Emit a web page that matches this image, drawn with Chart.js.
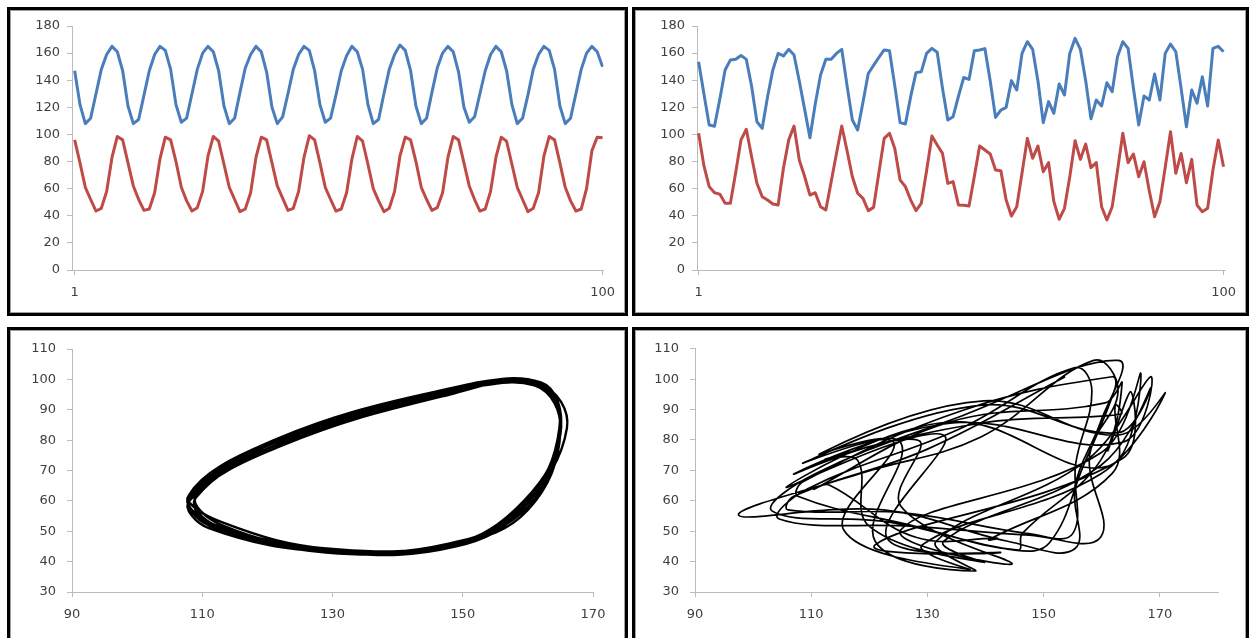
<!DOCTYPE html>
<html>
<head>
<meta charset="utf-8">
<script src="https://cdn.jsdelivr.net/npm/chart.js@4.4.1/dist/chart.umd.min.js"></script>
<style>
  html, body { margin: 0; padding: 0; background: #fff; }
  body { width: 1249px; height: 638px; position: relative; overflow: hidden; }
  .frame {
    position: absolute;
    box-sizing: border-box;
    border: 3px solid #000;
    box-shadow: inset 0 0 0 1px #a0a0a0;
  }
  canvas { position: absolute; }
</style>
</head>
<body>
<div class="frame" style="left:7px;top:7px;width:621px;height:309px"></div>
<div class="frame" style="left:632px;top:7px;width:617px;height:309px"></div>
<div class="frame" style="left:7px;top:327px;width:621px;height:330px"></div>
<div class="frame" style="left:632px;top:327px;width:617px;height:330px"></div>

<canvas id="regular-time" width="615" height="303" style="left:10px;top:10px"></canvas>
<canvas id="chaotic-time" width="611" height="303" style="left:635px;top:10px"></canvas>
<canvas id="regular-phase" width="615" height="308" style="left:10px;top:330px"></canvas>
<canvas id="chaotic-phase" width="611" height="308" style="left:635px;top:330px"></canvas>

<script>
// step number of every sample (x of the top charts)
const STEPS = Array.from({ length: 100 }, (_, k) => k + 1);

// left column: regular cycle
const REGULAR_BLUE = [
  147, 122,
  108, 112, 130, 148, 159, 165, 161, 147, 121,
  108, 111, 129, 147, 159, 165, 162, 148, 122,
  109, 112, 130, 148, 160, 165, 161, 147, 121,
  108, 112, 131, 149, 159, 165, 161, 146, 120,
  108, 113, 130, 148, 159, 165, 162, 147, 122,
  109, 112, 129, 147, 158, 165, 161, 148, 122,
  108, 111, 130, 148, 159, 166, 162, 147, 121,
  108, 112, 131, 149, 160, 165, 161, 146, 120,
  109, 113, 130, 147, 159, 165, 161, 147, 122,
  108, 112, 129, 148, 159, 165, 162, 148, 121,
  108, 112, 130, 148, 160, 165, 161, 150,
];
const REGULAR_RED = [
  96, 79,
  61, 52, 43.5, 45.5, 58, 83, 98.5, 96, 79,
  62, 52, 44, 45, 57, 82, 98, 96, 80,
  61, 51, 43.5, 46, 58, 84, 98.5, 95, 78,
  61, 52, 43, 45, 57, 83, 98, 96, 79,
  62, 53, 44, 45.5, 58, 83, 99, 96, 79,
  61, 52, 43.5, 45, 57, 82, 98.5, 95, 78,
  60, 51, 43, 45.5, 58, 84, 98, 96, 80,
  61, 52, 44, 46, 57, 83, 98.5, 96, 79,
  62, 52, 43.5, 45, 58, 83, 98, 95, 78,
  61, 52, 43, 45.5, 57, 84, 98.5, 96, 79,
  61, 51, 43.5, 45, 60, 88, 98, 97.5,
];

// right column: chaotic run
const CHAOTIC_BLUE = [
  153.7, 130, 107, 106, 126, 147.5, 155, 155.5, 158.3, 155.4,
  135.5, 109.4, 104.5, 127.6, 147.5, 159.8, 157.9, 162.8, 158.6, 139.2,
  118.5, 97.5, 122.4, 143.8, 155.4, 155.4, 159.8, 162.8, 136, 110.6,
  103.3, 123.7, 145, 151, 156.9, 162.3, 161.8, 136, 108.7, 107.7,
  127.9, 145.6, 146.3, 159.8, 163.5, 160.6, 134, 110.6, 113.1, 128,
  142, 140.6, 161.8, 162.3, 163.3, 139.4, 112.6, 118, 120, 139.7,
  132.8, 159.8, 168.4, 162.8, 139.4, 108.7, 124.2, 115.6, 137.2, 129.1,
  159.8, 170.9, 162.8, 139.7, 111.5, 125.4, 121, 138.2, 131.5, 157.4,
  168.4, 163.5, 134.3, 107, 128.4, 125.4, 144.6, 125.4, 159.8, 166.7,
  161, 134, 105.7, 132.8, 123, 142.6, 121, 163.5, 165, 161,
];
const CHAOTIC_RED = [
  100.8, 77, 61.5, 57, 56, 49.2, 49.2, 72, 96, 103.8,
  83.6, 64, 54, 51.6, 48.7, 48, 75, 96, 106.2, 81,
  69, 55.3, 57, 46.7, 44.3, 65, 86, 106.2, 88, 68.8,
  56.6, 52.9, 43.8, 46.2, 71.8, 97.1, 100.8, 89.7, 66.4, 61.5,
  51.6, 43.8, 49.2, 73.3, 98.8, 92.2, 86, 63.9, 65.2, 48,
  47.7, 47.2, 69, 91.5, 88.5, 85.6, 73.8, 73.3, 51.6, 39.8,
  46.7, 71.6, 97.1, 82.4, 91.5, 72.5, 79.2, 50.4, 37.4, 45.5,
  68.8, 95.4, 81.6, 92.9, 75.5, 79.2, 46.7, 36.9, 46.7, 73.3,
  100.8, 79.2, 85.6, 68.8, 79.9, 58.3, 39.3, 50.4, 75.7, 102,
  71.3, 86, 64.4, 81.6, 47.9, 43, 45.5, 73.8, 95.9, 76.2,
];

// tick labels
const TIME_X_TICKS = [1, 100];
const TIME_Y_TICKS = [0, 20, 40, 60, 80, 100, 120, 140, 160, 180];
const PHASE_X_TICKS = [90, 110, 130, 150, 170];
const PHASE_Y_TICKS = [30, 40, 50, 60, 70, 80, 90, 100, 110];

const FONT = { family: "'DejaVu Sans', sans-serif", size: 13 };
const AXIS_GRAY = "#bcbcbc";
const LABEL_GRAY = "#404040";

function fixedTicks(values) {
  return (axis) => {
    axis.ticks = values.map((value) => ({ value }));
  };
}

function axisStyle(ticks, padding, fit) {
  return {
    afterBuildTicks: fixedTicks(ticks),
    afterFit: fit,
    grid: { drawOnChartArea: false, drawTicks: true, tickLength: 5, color: AXIS_GRAY },
    border: { color: AXIS_GRAY, width: 1 },
    ticks: { font: FONT, color: LABEL_GRAY, padding, autoSkip: false, maxRotation: 0 },
  };
}

function pairs(xs, ys) {
  return xs.map((x, k) => ({ x, y: ys[k] }));
}

const baseOptions = {
  responsive: false,
  animation: false,
  devicePixelRatio: 1,
  plugins: { legend: { display: false }, tooltip: { enabled: false } },
  elements: { point: { radius: 0 } },
};

function timeChart(id, blue, red, xMin, xMax, padRight) {
  return new Chart(document.getElementById(id), {
    type: "line",
    data: {
      datasets: [
        { data: pairs(STEPS, blue), borderColor: "#4A7EBB", borderWidth: 3, tension: 0, borderJoinStyle: "round" },
        { data: pairs(STEPS, red), borderColor: "#BE4B48", borderWidth: 3, tension: 0, borderJoinStyle: "round" },
      ],
    },
    options: {
      ...baseOptions,
      layout: { padding: { top: 16, right: padRight, bottom: 0, left: 0 } },
      scales: {
        x: { type: "linear", min: xMin, max: xMax, ...axisStyle(TIME_X_TICKS, 10, (s) => { s.height = 43; }) },
        y: { type: "linear", min: 0, max: 180, ...axisStyle(TIME_Y_TICKS, 7, (s) => { s.width = 62; }) },
      },
    },
  });
}

function phaseChart(id, blue, red, xMax, padTop, padRight, yWidth, lineWidth) {
  return new Chart(document.getElementById(id), {
    type: "scatter",
    data: {
      datasets: [{
        data: pairs(blue, red),
        showLine: true,
        borderColor: "#000",
        borderWidth: lineWidth,
        tension: 0.4,
        pointRadius: 0,
      }],
    },
    options: {
      ...baseOptions,
      layout: { padding: { top: padTop, right: padRight, bottom: 0, left: 0 } },
      scales: {
        x: { type: "linear", min: 90, max: xMax, ...axisStyle(PHASE_X_TICKS, 10, (s) => { s.height = 46; }) },
        y: { type: "linear", min: 30, max: 110, ...axisStyle(PHASE_Y_TICKS, 11, (s) => { s.width = yWidth; }) },
      },
    },
  });
}

timeChart("regular-time", REGULAR_BLUE, REGULAR_RED, 0.5, 100.2, 20);
timeChart("chaotic-time", CHAOTIC_BLUE, CHAOTIC_RED, 0.7, 100.3, 16);
phaseChart("regular-phase", REGULAR_BLUE, REGULAR_RED, 170, 19, 32, 62, 2.4);
phaseChart("chaotic-phase", CHAOTIC_BLUE, CHAOTIC_RED, 180, 18, 28, 60, 1.7);
</script>
</body>
</html>
